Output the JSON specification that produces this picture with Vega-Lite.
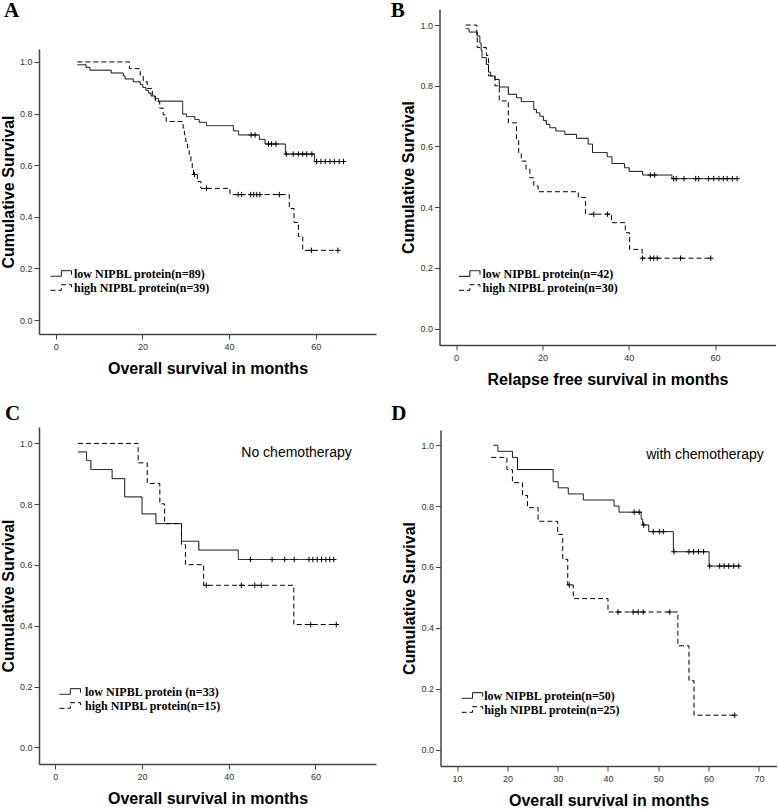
{
  "$schema": "https://vega.github.io/schema/vega-lite/v6.json",
  "background": "white",
  "padding": {"left": 0, "top": 0, "right": 0, "bottom": 0},
  "config": {
    "view": {"stroke": null},
    "font": "Liberation Sans",
    "axis": {"grid": false, "domainColor": "#444444", "domainWidth": 1.5, "tickColor": "#444444", "tickSize": 5, "labelFont": "Liberation Sans", "labelFontSize": 9, "labelColor": "#333333", "titleFont": "Liberation Sans", "titleFontSize": 16, "titleFontWeight": "bold", "titleColor": "black"},
    "axisX": {"labelPadding": 3, "titlePadding": 9.5},
    "axisY": {"labelPadding": 2, "titlePadding": 3},
    "title": {"font": "Liberation Serif", "fontSize": 21, "fontWeight": "bold", "color": "black", "anchor": "start", "frame": "group", "baseline": "alphabetic"},
    "legend": {"orient": "none", "padding": 0, "labelFont": "Liberation Serif", "labelFontWeight": "bold", "labelFontSize": 12, "labelColor": "black", "symbolType": "M-1.5,0.4H0.05V-0.4H1.5V0.17", "symbolSize": 196, "symbolStrokeColor": "black", "symbolStrokeWidth": 1, "symbolFillColor": "transparent", "rowPadding": -3, "labelOffset": 5.5}
  },
  "datasets": {
    "A": [
      {"t":5.0,"s":0.989,"g":"low","c":0},{"t":7.0,"s":0.979,"g":"low","c":0},{"t":7.9,"s":0.968,"g":"low","c":0},{"t":12.8,"s":0.957,"g":"low","c":0},{"t":15.6,"s":0.946,"g":"low","c":0},{"t":16.0,"s":0.934,"g":"low","c":0},{"t":17.9,"s":0.923,"g":"low","c":0},{"t":19.5,"s":0.912,"g":"low","c":0},{"t":20.1,"s":0.901,"g":"low","c":0},{"t":20.8,"s":0.890,"g":"low","c":0},{"t":21.4,"s":0.879,"g":"low","c":0},{"t":22.0,"s":0.868,"g":"low","c":0},{"t":22.9,"s":0.858,"g":"low","c":0},{"t":23.7,"s":0.848,"g":"low","c":0},{"t":29.3,"s":0.798,"g":"low","c":0},{"t":30.2,"s":0.788,"g":"low","c":0},{"t":32.1,"s":0.777,"g":"low","c":0},{"t":33.1,"s":0.766,"g":"low","c":0},{"t":34.8,"s":0.753,"g":"low","c":0},{"t":41.0,"s":0.733,"g":"low","c":0},{"t":42.2,"s":0.717,"g":"low","c":0},{"t":45.1,"s":0.717,"g":"low","c":1},{"t":46.0,"s":0.717,"g":"low","c":1},{"t":47.0,"s":0.700,"g":"low","c":0},{"t":48.3,"s":0.682,"g":"low","c":0},{"t":49.1,"s":0.682,"g":"low","c":1},{"t":49.8,"s":0.682,"g":"low","c":1},{"t":50.8,"s":0.682,"g":"low","c":1},{"t":53.0,"s":0.643,"g":"low","c":0},{"t":53.2,"s":0.643,"g":"low","c":1},{"t":54.8,"s":0.643,"g":"low","c":1},{"t":56.0,"s":0.643,"g":"low","c":1},{"t":57.0,"s":0.643,"g":"low","c":1},{"t":57.9,"s":0.643,"g":"low","c":1},{"t":59.1,"s":0.643,"g":"low","c":1},{"t":59.7,"s":0.614,"g":"low","c":0},{"t":60.2,"s":0.614,"g":"low","c":1},{"t":61.2,"s":0.614,"g":"low","c":1},{"t":62.2,"s":0.614,"g":"low","c":1},{"t":63.3,"s":0.614,"g":"low","c":1},{"t":64.3,"s":0.614,"g":"low","c":1},{"t":65.4,"s":0.614,"g":"low","c":1},{"t":66.4,"s":0.614,"g":"low","c":1},
      {"t":5.0,"s":1.0,"g":"high","c":0},{"t":17.0,"s":0.974,"g":"high","c":0},{"t":19.5,"s":0.949,"g":"high","c":0},{"t":20.2,"s":0.923,"g":"high","c":0},{"t":21.1,"s":0.897,"g":"high","c":0},{"t":22.3,"s":0.872,"g":"high","c":0},{"t":23.0,"s":0.846,"g":"high","c":0},{"t":24.0,"s":0.821,"g":"high","c":0},{"t":24.8,"s":0.795,"g":"high","c":0},{"t":25.5,"s":0.769,"g":"high","c":0},{"t":29.4,"s":0.744,"g":"high","c":0},{"t":29.7,"s":0.718,"g":"high","c":0},{"t":30.0,"s":0.692,"g":"high","c":0},{"t":30.4,"s":0.667,"g":"high","c":0},{"t":30.8,"s":0.641,"g":"high","c":0},{"t":31.2,"s":0.615,"g":"high","c":0},{"t":31.5,"s":0.590,"g":"high","c":0},{"t":31.8,"s":0.564,"g":"high","c":0},{"t":32.0,"s":0.564,"g":"high","c":1},{"t":32.7,"s":0.537,"g":"high","c":0},{"t":33.5,"s":0.510,"g":"high","c":0},{"t":34.8,"s":0.510,"g":"high","c":1},{"t":40.2,"s":0.486,"g":"high","c":0},{"t":42.1,"s":0.486,"g":"high","c":1},{"t":42.9,"s":0.486,"g":"high","c":1},{"t":45.0,"s":0.486,"g":"high","c":1},{"t":45.7,"s":0.486,"g":"high","c":1},{"t":46.4,"s":0.486,"g":"high","c":1},{"t":47.1,"s":0.486,"g":"high","c":1},{"t":51.6,"s":0.486,"g":"high","c":1},{"t":53.9,"s":0.432,"g":"high","c":0},{"t":55.0,"s":0.378,"g":"high","c":0},{"t":56.0,"s":0.324,"g":"high","c":0},{"t":57.0,"s":0.270,"g":"high","c":0},{"t":59.0,"s":0.270,"g":"high","c":1},{"t":65.1,"s":0.270,"g":"high","c":1}
    ],
    "B": [
      {"t":2.2,"s":0.988,"g":"low","c":0},{"t":3.0,"s":0.977,"g":"low","c":0},{"t":4.9,"s":0.964,"g":"low","c":0},{"t":5.5,"s":0.941,"g":"low","c":0},{"t":5.8,"s":0.917,"g":"low","c":0},{"t":6.0,"s":0.893,"g":"low","c":0},{"t":7.0,"s":0.870,"g":"low","c":0},{"t":7.5,"s":0.845,"g":"low","c":0},{"t":8.0,"s":0.832,"g":"low","c":0},{"t":9.0,"s":0.821,"g":"low","c":0},{"t":10.0,"s":0.796,"g":"low","c":0},{"t":12.1,"s":0.772,"g":"low","c":0},{"t":14.0,"s":0.761,"g":"low","c":0},{"t":15.1,"s":0.748,"g":"low","c":0},{"t":18.0,"s":0.722,"g":"low","c":0},{"t":18.6,"s":0.711,"g":"low","c":0},{"t":19.4,"s":0.700,"g":"low","c":0},{"t":20.2,"s":0.686,"g":"low","c":0},{"t":20.9,"s":0.673,"g":"low","c":0},{"t":21.7,"s":0.662,"g":"low","c":0},{"t":23.1,"s":0.651,"g":"low","c":0},{"t":25.2,"s":0.640,"g":"low","c":0},{"t":27.9,"s":0.627,"g":"low","c":0},{"t":30.6,"s":0.608,"g":"low","c":0},{"t":31.6,"s":0.580,"g":"low","c":0},{"t":35.0,"s":0.566,"g":"low","c":0},{"t":36.1,"s":0.544,"g":"low","c":0},{"t":39.0,"s":0.530,"g":"low","c":0},{"t":40.1,"s":0.518,"g":"low","c":0},{"t":43.2,"s":0.506,"g":"low","c":0},{"t":45.0,"s":0.506,"g":"low","c":1},{"t":46.0,"s":0.506,"g":"low","c":1},{"t":50.0,"s":0.494,"g":"low","c":0},{"t":50.4,"s":0.494,"g":"low","c":1},{"t":51.0,"s":0.494,"g":"low","c":1},{"t":52.8,"s":0.494,"g":"low","c":1},{"t":55.5,"s":0.494,"g":"low","c":1},{"t":56.2,"s":0.494,"g":"low","c":1},{"t":58.5,"s":0.494,"g":"low","c":1},{"t":59.7,"s":0.494,"g":"low","c":1},{"t":60.9,"s":0.494,"g":"low","c":1},{"t":61.9,"s":0.494,"g":"low","c":1},{"t":62.8,"s":0.494,"g":"low","c":1},{"t":64.0,"s":0.494,"g":"low","c":1},{"t":65.1,"s":0.494,"g":"low","c":1},
      {"t":2.2,"s":1.0,"g":"high","c":0},{"t":4.8,"s":0.967,"g":"high","c":0},{"t":4.9,"s":0.926,"g":"high","c":0},{"t":7.0,"s":0.900,"g":"high","c":0},{"t":7.5,"s":0.833,"g":"high","c":0},{"t":9.0,"s":0.800,"g":"high","c":0},{"t":10.0,"s":0.750,"g":"high","c":0},{"t":12.1,"s":0.678,"g":"high","c":0},{"t":14.0,"s":0.620,"g":"high","c":0},{"t":14.5,"s":0.580,"g":"high","c":0},{"t":15.1,"s":0.552,"g":"high","c":0},{"t":16.2,"s":0.525,"g":"high","c":0},{"t":17.1,"s":0.497,"g":"high","c":0},{"t":18.0,"s":0.470,"g":"high","c":0},{"t":19.0,"s":0.451,"g":"high","c":0},{"t":28.3,"s":0.432,"g":"high","c":0},{"t":30.0,"s":0.377,"g":"high","c":0},{"t":31.9,"s":0.377,"g":"high","c":1},{"t":35.1,"s":0.377,"g":"high","c":1},{"t":36.0,"s":0.349,"g":"high","c":0},{"t":39.2,"s":0.316,"g":"high","c":0},{"t":40.2,"s":0.261,"g":"high","c":0},{"t":43.1,"s":0.232,"g":"high","c":0},{"t":43.2,"s":0.232,"g":"high","c":1},{"t":45.0,"s":0.232,"g":"high","c":1},{"t":45.8,"s":0.232,"g":"high","c":1},{"t":46.6,"s":0.232,"g":"high","c":1},{"t":52.0,"s":0.232,"g":"high","c":1},{"t":59.0,"s":0.232,"g":"high","c":1}
    ],
    "C": [
      {"t":5.2,"s":0.972,"g":"low","c":0},{"t":7.2,"s":0.944,"g":"low","c":0},{"t":8.2,"s":0.914,"g":"low","c":0},{"t":13.1,"s":0.884,"g":"low","c":0},{"t":16.0,"s":0.824,"g":"low","c":0},{"t":20.0,"s":0.768,"g":"low","c":0},{"t":23.2,"s":0.736,"g":"low","c":0},{"t":29.1,"s":0.678,"g":"low","c":0},{"t":33.1,"s":0.649,"g":"low","c":0},{"t":42.2,"s":0.618,"g":"low","c":0},{"t":45.0,"s":0.618,"g":"low","c":1},{"t":50.0,"s":0.618,"g":"low","c":1},{"t":52.9,"s":0.618,"g":"low","c":1},{"t":55.1,"s":0.618,"g":"low","c":1},{"t":58.5,"s":0.618,"g":"low","c":1},{"t":59.4,"s":0.618,"g":"low","c":1},{"t":60.4,"s":0.618,"g":"low","c":1},{"t":61.4,"s":0.618,"g":"low","c":1},{"t":62.4,"s":0.618,"g":"low","c":1},{"t":63.3,"s":0.618,"g":"low","c":1},{"t":64.2,"s":0.618,"g":"low","c":1},
      {"t":5.2,"s":1.0,"g":"high","c":0},{"t":19.1,"s":0.936,"g":"high","c":0},{"t":21.2,"s":0.868,"g":"high","c":0},{"t":24.1,"s":0.801,"g":"high","c":0},{"t":25.2,"s":0.736,"g":"high","c":0},{"t":29.1,"s":0.667,"g":"high","c":0},{"t":30.0,"s":0.601,"g":"high","c":0},{"t":34.2,"s":0.533,"g":"high","c":0},{"t":34.8,"s":0.533,"g":"high","c":1},{"t":42.9,"s":0.533,"g":"high","c":1},{"t":46.0,"s":0.533,"g":"high","c":1},{"t":47.5,"s":0.533,"g":"high","c":1},{"t":55.0,"s":0.404,"g":"high","c":0},{"t":58.9,"s":0.404,"g":"high","c":1},{"t":64.8,"s":0.404,"g":"high","c":1}
    ],
    "D": [
      {"t":17.2,"s":1.0,"g":"low","c":0},{"t":18.1,"s":0.980,"g":"low","c":0},{"t":21.0,"s":0.960,"g":"low","c":0},{"t":22.0,"s":0.920,"g":"low","c":0},{"t":29.1,"s":0.880,"g":"low","c":0},{"t":30.1,"s":0.860,"g":"low","c":0},{"t":32.1,"s":0.840,"g":"low","c":0},{"t":35.1,"s":0.820,"g":"low","c":0},{"t":41.2,"s":0.800,"g":"low","c":0},{"t":42.2,"s":0.780,"g":"low","c":0},{"t":45.2,"s":0.780,"g":"low","c":1},{"t":46.2,"s":0.780,"g":"low","c":1},{"t":46.6,"s":0.757,"g":"low","c":0},{"t":46.9,"s":0.738,"g":"low","c":0},{"t":47.1,"s":0.738,"g":"low","c":1},{"t":48.1,"s":0.716,"g":"low","c":0},{"t":49.0,"s":0.716,"g":"low","c":1},{"t":50.2,"s":0.716,"g":"low","c":1},{"t":51.0,"s":0.716,"g":"low","c":1},{"t":53.0,"s":0.650,"g":"low","c":0},{"t":53.1,"s":0.650,"g":"low","c":1},{"t":56.1,"s":0.650,"g":"low","c":1},{"t":57.0,"s":0.650,"g":"low","c":1},{"t":58.0,"s":0.650,"g":"low","c":1},{"t":59.0,"s":0.650,"g":"low","c":1},{"t":60.1,"s":0.603,"g":"low","c":0},{"t":60.2,"s":0.603,"g":"low","c":1},{"t":62.2,"s":0.603,"g":"low","c":1},{"t":63.1,"s":0.603,"g":"low","c":1},{"t":64.0,"s":0.603,"g":"low","c":1},{"t":65.0,"s":0.603,"g":"low","c":1},{"t":66.0,"s":0.603,"g":"low","c":1},
      {"t":16.8,"s":0.960,"g":"high","c":0},{"t":19.9,"s":0.920,"g":"high","c":0},{"t":21.0,"s":0.877,"g":"high","c":0},{"t":23.0,"s":0.835,"g":"high","c":0},{"t":24.0,"s":0.795,"g":"high","c":0},{"t":26.1,"s":0.750,"g":"high","c":0},{"t":30.0,"s":0.707,"g":"high","c":0},{"t":31.0,"s":0.625,"g":"high","c":0},{"t":32.0,"s":0.541,"g":"high","c":0},{"t":32.3,"s":0.541,"g":"high","c":1},{"t":33.1,"s":0.496,"g":"high","c":0},{"t":40.0,"s":0.452,"g":"high","c":0},{"t":42.0,"s":0.452,"g":"high","c":1},{"t":45.0,"s":0.452,"g":"high","c":1},{"t":46.0,"s":0.452,"g":"high","c":1},{"t":47.0,"s":0.452,"g":"high","c":1},{"t":52.3,"s":0.452,"g":"high","c":1},{"t":53.9,"s":0.341,"g":"high","c":0},{"t":56.1,"s":0.226,"g":"high","c":0},{"t":57.1,"s":0.113,"g":"high","c":0},{"t":65.2,"s":0.113,"g":"high","c":1}
    ],
    "Cnote": [{"t":42.9,"s":0.969,"label":"No chemotherapy"}],
    "Dnote": [{"t":47.6,"s":0.967,"label":"with chemotherapy"}]
  },
  "columns": 2,
  "align": "none",
  "spacing": {"row": 15, "column": 14.5},
  "resolve": {"scale": {"strokeDash": "independent", "x": "independent", "y": "independent"}, "legend": {"strokeDash": "independent"}},
  "concat": [
    {
      "width": 337, "height": 325,
      "title": {"text": "A", "dx": -35, "offset": -12},
      "data": {"name": "A"},
      "layer": [
        {
          "mark": {"type": "line", "interpolate": "step-after", "color": "black", "strokeWidth": 1},
          "encoding": {
            "x": {"field": "t", "type": "quantitative", "scale": {"domain": [-3.85, 73.9], "nice": false, "zero": false}, "axis": {"values": [0, 20, 40, 60], "title": "Overall survival in months"}},
            "y": {"field": "s", "type": "quantitative", "scale": {"domain": [-0.054, 1.05], "range": [325, 40], "nice": false, "zero": false}, "axis": {"values": [0, 0.2, 0.4, 0.6, 0.8, 1], "format": ".1f", "title": "Cumulative Survival"}},
            "strokeDash": {"field": "g", "type": "nominal", "scale": {"domain": ["low", "high"], "range": [[1, 0], [5, 3]]}, "legend": {"title": null, "legendX": 14.5, "legendY": 257, "labelExpr": "datum.value == 'low' ? 'low NIPBL protein(n=89)' : 'high NIPBL protein(n=39)'"}}
          }
        },
        {
          "transform": [{"filter": "datum.c == 1"}],
          "mark": {"type": "point", "shape": "M-1,0H1M0,-1V1", "filled": false, "color": "black", "size": 30, "strokeWidth": 1, "opacity": 1},
          "encoding": {"x": {"field": "t", "type": "quantitative"}, "y": {"field": "s", "type": "quantitative"}}
        }
      ]
    },
    {
      "width": 336, "height": 336,
      "title": {"text": "B", "dx": -48.75, "offset": -12},
      "data": {"name": "B"},
      "layer": [
        {
          "mark": {"type": "line", "interpolate": "step-after", "color": "black", "strokeWidth": 1},
          "encoding": {
            "x": {"field": "t", "type": "quantitative", "scale": {"domain": [-3.85, 74.0], "nice": false, "zero": false}, "axis": {"values": [0, 20, 40, 60], "title": "Relapse free survival in months"}},
            "y": {"field": "s", "type": "quantitative", "scale": {"domain": [-0.054, 1.053], "nice": false, "zero": false}, "axis": {"values": [0, 0.2, 0.4, 0.6, 0.8, 1], "format": ".1f", "title": "Cumulative Survival"}},
            "strokeDash": {"field": "g", "type": "nominal", "scale": {"domain": ["low", "high"], "range": [[1, 0], [5, 3]]}, "legend": {"title": null, "legendX": 22.5, "legendY": 257, "rowPadding": -2, "labelExpr": "datum.value == 'low' ? 'low NIPBL protein(n=42)' : 'high NIPBL protein(n=30)'"}}
          }
        },
        {
          "transform": [{"filter": "datum.c == 1"}],
          "mark": {"type": "point", "shape": "M-1,0H1M0,-1V1", "filled": false, "color": "black", "size": 30, "strokeWidth": 1, "opacity": 1},
          "encoding": {"x": {"field": "t", "type": "quantitative"}, "y": {"field": "s", "type": "quantitative"}}
        }
      ]
    },
    {
      "width": 337, "height": 337,
      "title": {"text": "C", "dx": -34, "offset": 3},
      "layer": [
        {
          "data": {"name": "C"},
          "mark": {"type": "line", "interpolate": "step-after", "color": "black", "strokeWidth": 1},
          "encoding": {
            "x": {"field": "t", "type": "quantitative", "scale": {"domain": [-3.77, 73.96], "nice": false, "zero": false}, "axis": {"values": [0, 20, 40, 60], "title": "Overall survival in months"}},
            "y": {"field": "s", "type": "quantitative", "scale": {"domain": [-0.055, 1.054], "nice": false, "zero": false}, "axis": {"values": [0, 0.2, 0.4, 0.6, 0.8, 1], "format": ".1f", "title": "Cumulative Survival"}},
            "strokeDash": {"field": "g", "type": "nominal", "scale": {"domain": ["low", "high"], "range": [[1, 0], [5, 3]]}, "legend": {"title": null, "legendX": 23.5, "legendY": 257, "labelOffset": 7.5, "labelExpr": "datum.value == 'low' ? 'low NIPBL protein (n=33)' : 'high NIPBL protein(n=15)'"}}
          }
        },
        {
          "data": {"name": "C"},
          "transform": [{"filter": "datum.c == 1"}],
          "mark": {"type": "point", "shape": "M-1,0H1M0,-1V1", "filled": false, "color": "black", "size": 30, "strokeWidth": 1, "opacity": 1},
          "encoding": {"x": {"field": "t", "type": "quantitative"}, "y": {"field": "s", "type": "quantitative"}}
        },
        {
          "data": {"name": "Cnote"},
          "mark": {"type": "text", "align": "left", "baseline": "middle", "font": "Liberation Sans", "fontSize": 14, "color": "black"},
          "encoding": {"x": {"field": "t", "type": "quantitative"}, "y": {"field": "s", "type": "quantitative"}, "text": {"field": "label"}}
        }
      ]
    },
    {
      "width": 336, "height": 341,
      "title": {"text": "D", "dx": -49.25, "offset": 1},
      "layer": [
        {
          "data": {"name": "D"},
          "mark": {"type": "line", "interpolate": "step-after", "color": "black", "strokeWidth": 1},
          "encoding": {
            "x": {"field": "t", "type": "quantitative", "scale": {"domain": [6.7, 73.5], "nice": false, "zero": false}, "axis": {"values": [10, 20, 30, 40, 50, 60, 70], "title": "Overall survival in months"}},
            "y": {"field": "s", "type": "quantitative", "scale": {"domain": [-0.054, 1.05], "range": [341, 5], "nice": false, "zero": false}, "axis": {"values": [0, 0.2, 0.4, 0.6, 0.8, 1], "format": ".1f", "title": "Cumulative Survival"}},
            "strokeDash": {"field": "g", "type": "nominal", "scale": {"domain": ["low", "high"], "range": [[1, 0], [5, 3]]}, "legend": {"title": null, "legendX": 24.2, "legendY": 263, "labelOffset": 4.5, "labelExpr": "datum.value == 'low' ? 'low NIPBL protein(n=50)' : 'high NIPBL protein(n=25)'"}}
          }
        },
        {
          "data": {"name": "D"},
          "transform": [{"filter": "datum.c == 1"}],
          "mark": {"type": "point", "shape": "M-1,0H1M0,-1V1", "filled": false, "color": "black", "size": 30, "strokeWidth": 1, "opacity": 1},
          "encoding": {"x": {"field": "t", "type": "quantitative"}, "y": {"field": "s", "type": "quantitative"}}
        },
        {
          "data": {"name": "Dnote"},
          "mark": {"type": "text", "align": "left", "baseline": "middle", "font": "Liberation Sans", "fontSize": 14, "color": "black"},
          "encoding": {"x": {"field": "t", "type": "quantitative"}, "y": {"field": "s", "type": "quantitative"}, "text": {"field": "label"}}
        }
      ]
    }
  ]
}
